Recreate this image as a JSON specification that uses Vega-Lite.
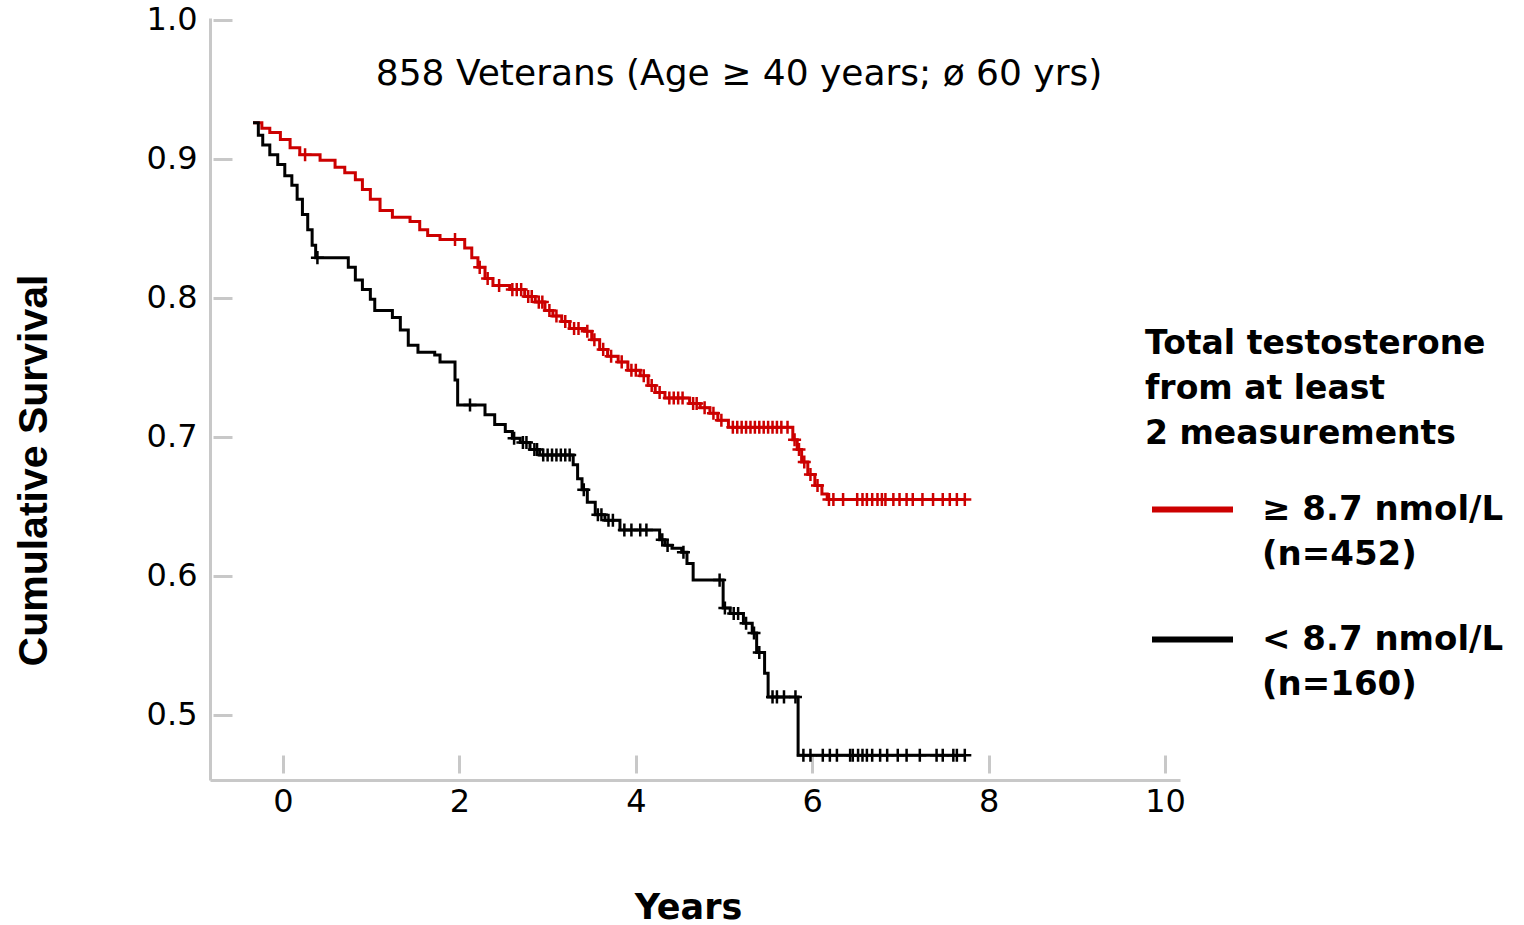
{
  "$schema": "https://vega.github.io/schema/vega-lite/v6.json",
  "width": 970,
  "height": 762,
  "autosize": {"type": "none"},
  "padding": {"left": 210, "top": 18, "right": 344, "bottom": 145},
  "background": "white",
  "config": {
    "font": "DejaVu Sans",
    "view": {"stroke": null},
    "axis": {
      "grid": false,
      "domainColor": "#c8c8c8",
      "domainWidth": 3,
      "tickColor": "#c8c8c8",
      "tickWidth": 3,
      "labelFont": "DejaVu Sans",
      "labelFontSize": 32,
      "labelColor": "#000000"
    }
  },
  "title": {
    "text": "858 Veterans (Age ≥ 40 years; ø 60 yrs)",
    "font": "DejaVu Sans",
    "fontSize": 36,
    "fontWeight": "normal",
    "color": "#000000",
    "anchor": "middle",
    "frame": "group",
    "baseline": "alphabetic",
    "offset": 0,
    "dx": 44,
    "dy": 117
  },
  "data": {
    "values": [
      {"g": "≥ 8.7 nmol/L", "t": -0.34, "s": 0.926, "c": 0},
      {"g": "≥ 8.7 nmol/L", "t": -0.24, "s": 0.922, "c": 0},
      {"g": "≥ 8.7 nmol/L", "t": -0.15, "s": 0.919, "c": 0},
      {"g": "≥ 8.7 nmol/L", "t": -0.03, "s": 0.914, "c": 0},
      {"g": "≥ 8.7 nmol/L", "t": 0.08, "s": 0.908, "c": 0},
      {"g": "≥ 8.7 nmol/L", "t": 0.19, "s": 0.903, "c": 0},
      {"g": "≥ 8.7 nmol/L", "t": 0.25, "s": 0.903, "c": 1},
      {"g": "≥ 8.7 nmol/L", "t": 0.42, "s": 0.899, "c": 0},
      {"g": "≥ 8.7 nmol/L", "t": 0.59, "s": 0.894, "c": 0},
      {"g": "≥ 8.7 nmol/L", "t": 0.70, "s": 0.890, "c": 0},
      {"g": "≥ 8.7 nmol/L", "t": 0.82, "s": 0.885, "c": 0},
      {"g": "≥ 8.7 nmol/L", "t": 0.90, "s": 0.878, "c": 0},
      {"g": "≥ 8.7 nmol/L", "t": 0.99, "s": 0.871, "c": 0},
      {"g": "≥ 8.7 nmol/L", "t": 1.10, "s": 0.863, "c": 0},
      {"g": "≥ 8.7 nmol/L", "t": 1.24, "s": 0.858, "c": 0},
      {"g": "≥ 8.7 nmol/L", "t": 1.44, "s": 0.855, "c": 0},
      {"g": "≥ 8.7 nmol/L", "t": 1.55, "s": 0.849, "c": 0},
      {"g": "≥ 8.7 nmol/L", "t": 1.64, "s": 0.845, "c": 0},
      {"g": "≥ 8.7 nmol/L", "t": 1.78, "s": 0.842, "c": 0},
      {"g": "≥ 8.7 nmol/L", "t": 1.95, "s": 0.842, "c": 1},
      {"g": "≥ 8.7 nmol/L", "t": 2.06, "s": 0.836, "c": 0},
      {"g": "≥ 8.7 nmol/L", "t": 2.14, "s": 0.829, "c": 0},
      {"g": "≥ 8.7 nmol/L", "t": 2.21, "s": 0.822, "c": 0},
      {"g": "≥ 8.7 nmol/L", "t": 2.23, "s": 0.822, "c": 1},
      {"g": "≥ 8.7 nmol/L", "t": 2.29, "s": 0.814, "c": 0},
      {"g": "≥ 8.7 nmol/L", "t": 2.32, "s": 0.814, "c": 1},
      {"g": "≥ 8.7 nmol/L", "t": 2.38, "s": 0.809, "c": 0},
      {"g": "≥ 8.7 nmol/L", "t": 2.45, "s": 0.809, "c": 1},
      {"g": "≥ 8.7 nmol/L", "t": 2.57, "s": 0.806, "c": 0},
      {"g": "≥ 8.7 nmol/L", "t": 2.60, "s": 0.806, "c": 1},
      {"g": "≥ 8.7 nmol/L", "t": 2.65, "s": 0.806, "c": 1},
      {"g": "≥ 8.7 nmol/L", "t": 2.70, "s": 0.806, "c": 1},
      {"g": "≥ 8.7 nmol/L", "t": 2.74, "s": 0.801, "c": 0},
      {"g": "≥ 8.7 nmol/L", "t": 2.78, "s": 0.801, "c": 1},
      {"g": "≥ 8.7 nmol/L", "t": 2.82, "s": 0.801, "c": 1},
      {"g": "≥ 8.7 nmol/L", "t": 2.86, "s": 0.797, "c": 0},
      {"g": "≥ 8.7 nmol/L", "t": 2.90, "s": 0.797, "c": 1},
      {"g": "≥ 8.7 nmol/L", "t": 2.94, "s": 0.797, "c": 1},
      {"g": "≥ 8.7 nmol/L", "t": 2.97, "s": 0.791, "c": 0},
      {"g": "≥ 8.7 nmol/L", "t": 3.02, "s": 0.791, "c": 1},
      {"g": "≥ 8.7 nmol/L", "t": 3.06, "s": 0.787, "c": 0},
      {"g": "≥ 8.7 nmol/L", "t": 3.10, "s": 0.787, "c": 1},
      {"g": "≥ 8.7 nmol/L", "t": 3.16, "s": 0.783, "c": 0},
      {"g": "≥ 8.7 nmol/L", "t": 3.20, "s": 0.783, "c": 1},
      {"g": "≥ 8.7 nmol/L", "t": 3.25, "s": 0.778, "c": 0},
      {"g": "≥ 8.7 nmol/L", "t": 3.30, "s": 0.778, "c": 1},
      {"g": "≥ 8.7 nmol/L", "t": 3.35, "s": 0.778, "c": 1},
      {"g": "≥ 8.7 nmol/L", "t": 3.42, "s": 0.776, "c": 0},
      {"g": "≥ 8.7 nmol/L", "t": 3.45, "s": 0.776, "c": 1},
      {"g": "≥ 8.7 nmol/L", "t": 3.50, "s": 0.770, "c": 0},
      {"g": "≥ 8.7 nmol/L", "t": 3.53, "s": 0.770, "c": 1},
      {"g": "≥ 8.7 nmol/L", "t": 3.59, "s": 0.763, "c": 0},
      {"g": "≥ 8.7 nmol/L", "t": 3.63, "s": 0.763, "c": 1},
      {"g": "≥ 8.7 nmol/L", "t": 3.68, "s": 0.758, "c": 0},
      {"g": "≥ 8.7 nmol/L", "t": 3.72, "s": 0.758, "c": 1},
      {"g": "≥ 8.7 nmol/L", "t": 3.80, "s": 0.754, "c": 0},
      {"g": "≥ 8.7 nmol/L", "t": 3.84, "s": 0.754, "c": 1},
      {"g": "≥ 8.7 nmol/L", "t": 3.91, "s": 0.748, "c": 0},
      {"g": "≥ 8.7 nmol/L", "t": 3.95, "s": 0.748, "c": 1},
      {"g": "≥ 8.7 nmol/L", "t": 4.00, "s": 0.748, "c": 1},
      {"g": "≥ 8.7 nmol/L", "t": 4.05, "s": 0.744, "c": 0},
      {"g": "≥ 8.7 nmol/L", "t": 4.09, "s": 0.744, "c": 1},
      {"g": "≥ 8.7 nmol/L", "t": 4.14, "s": 0.737, "c": 0},
      {"g": "≥ 8.7 nmol/L", "t": 4.18, "s": 0.737, "c": 1},
      {"g": "≥ 8.7 nmol/L", "t": 4.22, "s": 0.732, "c": 0},
      {"g": "≥ 8.7 nmol/L", "t": 4.27, "s": 0.732, "c": 1},
      {"g": "≥ 8.7 nmol/L", "t": 4.33, "s": 0.728, "c": 0},
      {"g": "≥ 8.7 nmol/L", "t": 4.38, "s": 0.728, "c": 1},
      {"g": "≥ 8.7 nmol/L", "t": 4.43, "s": 0.728, "c": 1},
      {"g": "≥ 8.7 nmol/L", "t": 4.48, "s": 0.728, "c": 1},
      {"g": "≥ 8.7 nmol/L", "t": 4.53, "s": 0.728, "c": 1},
      {"g": "≥ 8.7 nmol/L", "t": 4.61, "s": 0.724, "c": 0},
      {"g": "≥ 8.7 nmol/L", "t": 4.65, "s": 0.724, "c": 1},
      {"g": "≥ 8.7 nmol/L", "t": 4.69, "s": 0.724, "c": 1},
      {"g": "≥ 8.7 nmol/L", "t": 4.73, "s": 0.721, "c": 0},
      {"g": "≥ 8.7 nmol/L", "t": 4.78, "s": 0.721, "c": 1},
      {"g": "≥ 8.7 nmol/L", "t": 4.84, "s": 0.717, "c": 0},
      {"g": "≥ 8.7 nmol/L", "t": 4.88, "s": 0.717, "c": 1},
      {"g": "≥ 8.7 nmol/L", "t": 4.93, "s": 0.712, "c": 0},
      {"g": "≥ 8.7 nmol/L", "t": 4.97, "s": 0.712, "c": 1},
      {"g": "≥ 8.7 nmol/L", "t": 5.05, "s": 0.707, "c": 0},
      {"g": "≥ 8.7 nmol/L", "t": 5.10, "s": 0.707, "c": 1},
      {"g": "≥ 8.7 nmol/L", "t": 5.15, "s": 0.707, "c": 1},
      {"g": "≥ 8.7 nmol/L", "t": 5.20, "s": 0.707, "c": 1},
      {"g": "≥ 8.7 nmol/L", "t": 5.25, "s": 0.707, "c": 1},
      {"g": "≥ 8.7 nmol/L", "t": 5.30, "s": 0.707, "c": 1},
      {"g": "≥ 8.7 nmol/L", "t": 5.35, "s": 0.707, "c": 1},
      {"g": "≥ 8.7 nmol/L", "t": 5.40, "s": 0.707, "c": 1},
      {"g": "≥ 8.7 nmol/L", "t": 5.45, "s": 0.707, "c": 1},
      {"g": "≥ 8.7 nmol/L", "t": 5.50, "s": 0.707, "c": 1},
      {"g": "≥ 8.7 nmol/L", "t": 5.55, "s": 0.707, "c": 1},
      {"g": "≥ 8.7 nmol/L", "t": 5.60, "s": 0.707, "c": 1},
      {"g": "≥ 8.7 nmol/L", "t": 5.65, "s": 0.707, "c": 1},
      {"g": "≥ 8.7 nmol/L", "t": 5.72, "s": 0.707, "c": 1},
      {"g": "≥ 8.7 nmol/L", "t": 5.78, "s": 0.698, "c": 0},
      {"g": "≥ 8.7 nmol/L", "t": 5.80, "s": 0.698, "c": 1},
      {"g": "≥ 8.7 nmol/L", "t": 5.83, "s": 0.691, "c": 0},
      {"g": "≥ 8.7 nmol/L", "t": 5.85, "s": 0.691, "c": 1},
      {"g": "≥ 8.7 nmol/L", "t": 5.88, "s": 0.682, "c": 0},
      {"g": "≥ 8.7 nmol/L", "t": 5.91, "s": 0.682, "c": 1},
      {"g": "≥ 8.7 nmol/L", "t": 5.95, "s": 0.673, "c": 0},
      {"g": "≥ 8.7 nmol/L", "t": 5.98, "s": 0.673, "c": 1},
      {"g": "≥ 8.7 nmol/L", "t": 6.03, "s": 0.665, "c": 0},
      {"g": "≥ 8.7 nmol/L", "t": 6.06, "s": 0.665, "c": 1},
      {"g": "≥ 8.7 nmol/L", "t": 6.11, "s": 0.659, "c": 0},
      {"g": "≥ 8.7 nmol/L", "t": 6.17, "s": 0.655, "c": 0},
      {"g": "≥ 8.7 nmol/L", "t": 6.19, "s": 0.655, "c": 1},
      {"g": "≥ 8.7 nmol/L", "t": 6.24, "s": 0.655, "c": 1},
      {"g": "≥ 8.7 nmol/L", "t": 6.35, "s": 0.655, "c": 1},
      {"g": "≥ 8.7 nmol/L", "t": 6.51, "s": 0.655, "c": 1},
      {"g": "≥ 8.7 nmol/L", "t": 6.57, "s": 0.655, "c": 1},
      {"g": "≥ 8.7 nmol/L", "t": 6.62, "s": 0.655, "c": 1},
      {"g": "≥ 8.7 nmol/L", "t": 6.68, "s": 0.655, "c": 1},
      {"g": "≥ 8.7 nmol/L", "t": 6.74, "s": 0.655, "c": 1},
      {"g": "≥ 8.7 nmol/L", "t": 6.79, "s": 0.655, "c": 1},
      {"g": "≥ 8.7 nmol/L", "t": 6.83, "s": 0.655, "c": 1},
      {"g": "≥ 8.7 nmol/L", "t": 6.92, "s": 0.655, "c": 1},
      {"g": "≥ 8.7 nmol/L", "t": 6.99, "s": 0.655, "c": 1},
      {"g": "≥ 8.7 nmol/L", "t": 7.07, "s": 0.655, "c": 1},
      {"g": "≥ 8.7 nmol/L", "t": 7.14, "s": 0.655, "c": 1},
      {"g": "≥ 8.7 nmol/L", "t": 7.25, "s": 0.655, "c": 1},
      {"g": "≥ 8.7 nmol/L", "t": 7.37, "s": 0.655, "c": 1},
      {"g": "≥ 8.7 nmol/L", "t": 7.48, "s": 0.655, "c": 1},
      {"g": "≥ 8.7 nmol/L", "t": 7.56, "s": 0.655, "c": 1},
      {"g": "≥ 8.7 nmol/L", "t": 7.64, "s": 0.655, "c": 1},
      {"g": "≥ 8.7 nmol/L", "t": 7.73, "s": 0.655, "c": 1},
      {"g": "< 8.7 nmol/L", "t": -0.34, "s": 0.926, "c": 0},
      {"g": "< 8.7 nmol/L", "t": -0.28, "s": 0.917, "c": 0},
      {"g": "< 8.7 nmol/L", "t": -0.23, "s": 0.910, "c": 0},
      {"g": "< 8.7 nmol/L", "t": -0.15, "s": 0.903, "c": 0},
      {"g": "< 8.7 nmol/L", "t": -0.06, "s": 0.896, "c": 0},
      {"g": "< 8.7 nmol/L", "t": 0.02, "s": 0.888, "c": 0},
      {"g": "< 8.7 nmol/L", "t": 0.10, "s": 0.881, "c": 0},
      {"g": "< 8.7 nmol/L", "t": 0.16, "s": 0.871, "c": 0},
      {"g": "< 8.7 nmol/L", "t": 0.22, "s": 0.860, "c": 0},
      {"g": "< 8.7 nmol/L", "t": 0.28, "s": 0.849, "c": 0},
      {"g": "< 8.7 nmol/L", "t": 0.33, "s": 0.838, "c": 0},
      {"g": "< 8.7 nmol/L", "t": 0.37, "s": 0.829, "c": 0},
      {"g": "< 8.7 nmol/L", "t": 0.39, "s": 0.829, "c": 1},
      {"g": "< 8.7 nmol/L", "t": 0.74, "s": 0.822, "c": 0},
      {"g": "< 8.7 nmol/L", "t": 0.82, "s": 0.813, "c": 0},
      {"g": "< 8.7 nmol/L", "t": 0.90, "s": 0.806, "c": 0},
      {"g": "< 8.7 nmol/L", "t": 0.99, "s": 0.799, "c": 0},
      {"g": "< 8.7 nmol/L", "t": 1.04, "s": 0.791, "c": 0},
      {"g": "< 8.7 nmol/L", "t": 1.24, "s": 0.786, "c": 0},
      {"g": "< 8.7 nmol/L", "t": 1.33, "s": 0.777, "c": 0},
      {"g": "< 8.7 nmol/L", "t": 1.42, "s": 0.766, "c": 0},
      {"g": "< 8.7 nmol/L", "t": 1.53, "s": 0.761, "c": 0},
      {"g": "< 8.7 nmol/L", "t": 1.72, "s": 0.759, "c": 0},
      {"g": "< 8.7 nmol/L", "t": 1.78, "s": 0.754, "c": 0},
      {"g": "< 8.7 nmol/L", "t": 1.95, "s": 0.741, "c": 0},
      {"g": "< 8.7 nmol/L", "t": 1.98, "s": 0.723, "c": 0},
      {"g": "< 8.7 nmol/L", "t": 2.12, "s": 0.723, "c": 1},
      {"g": "< 8.7 nmol/L", "t": 2.29, "s": 0.716, "c": 0},
      {"g": "< 8.7 nmol/L", "t": 2.40, "s": 0.709, "c": 0},
      {"g": "< 8.7 nmol/L", "t": 2.52, "s": 0.704, "c": 0},
      {"g": "< 8.7 nmol/L", "t": 2.60, "s": 0.699, "c": 0},
      {"g": "< 8.7 nmol/L", "t": 2.62, "s": 0.699, "c": 1},
      {"g": "< 8.7 nmol/L", "t": 2.69, "s": 0.696, "c": 0},
      {"g": "< 8.7 nmol/L", "t": 2.72, "s": 0.696, "c": 1},
      {"g": "< 8.7 nmol/L", "t": 2.76, "s": 0.696, "c": 1},
      {"g": "< 8.7 nmol/L", "t": 2.80, "s": 0.691, "c": 0},
      {"g": "< 8.7 nmol/L", "t": 2.85, "s": 0.691, "c": 1},
      {"g": "< 8.7 nmol/L", "t": 2.88, "s": 0.691, "c": 1},
      {"g": "< 8.7 nmol/L", "t": 2.91, "s": 0.687, "c": 0},
      {"g": "< 8.7 nmol/L", "t": 2.95, "s": 0.687, "c": 1},
      {"g": "< 8.7 nmol/L", "t": 3.00, "s": 0.687, "c": 1},
      {"g": "< 8.7 nmol/L", "t": 3.05, "s": 0.687, "c": 1},
      {"g": "< 8.7 nmol/L", "t": 3.10, "s": 0.687, "c": 1},
      {"g": "< 8.7 nmol/L", "t": 3.15, "s": 0.687, "c": 1},
      {"g": "< 8.7 nmol/L", "t": 3.20, "s": 0.687, "c": 1},
      {"g": "< 8.7 nmol/L", "t": 3.25, "s": 0.687, "c": 1},
      {"g": "< 8.7 nmol/L", "t": 3.29, "s": 0.680, "c": 0},
      {"g": "< 8.7 nmol/L", "t": 3.34, "s": 0.670, "c": 0},
      {"g": "< 8.7 nmol/L", "t": 3.39, "s": 0.662, "c": 0},
      {"g": "< 8.7 nmol/L", "t": 3.41, "s": 0.662, "c": 1},
      {"g": "< 8.7 nmol/L", "t": 3.45, "s": 0.653, "c": 0},
      {"g": "< 8.7 nmol/L", "t": 3.54, "s": 0.644, "c": 0},
      {"g": "< 8.7 nmol/L", "t": 3.57, "s": 0.644, "c": 1},
      {"g": "< 8.7 nmol/L", "t": 3.61, "s": 0.644, "c": 1},
      {"g": "< 8.7 nmol/L", "t": 3.65, "s": 0.640, "c": 0},
      {"g": "< 8.7 nmol/L", "t": 3.69, "s": 0.640, "c": 1},
      {"g": "< 8.7 nmol/L", "t": 3.74, "s": 0.640, "c": 1},
      {"g": "< 8.7 nmol/L", "t": 3.82, "s": 0.633, "c": 0},
      {"g": "< 8.7 nmol/L", "t": 3.87, "s": 0.633, "c": 1},
      {"g": "< 8.7 nmol/L", "t": 3.95, "s": 0.633, "c": 1},
      {"g": "< 8.7 nmol/L", "t": 4.05, "s": 0.633, "c": 1},
      {"g": "< 8.7 nmol/L", "t": 4.12, "s": 0.633, "c": 1},
      {"g": "< 8.7 nmol/L", "t": 4.27, "s": 0.626, "c": 0},
      {"g": "< 8.7 nmol/L", "t": 4.30, "s": 0.626, "c": 1},
      {"g": "< 8.7 nmol/L", "t": 4.33, "s": 0.622, "c": 0},
      {"g": "< 8.7 nmol/L", "t": 4.36, "s": 0.622, "c": 1},
      {"g": "< 8.7 nmol/L", "t": 4.41, "s": 0.620, "c": 0},
      {"g": "< 8.7 nmol/L", "t": 4.52, "s": 0.617, "c": 0},
      {"g": "< 8.7 nmol/L", "t": 4.54, "s": 0.617, "c": 1},
      {"g": "< 8.7 nmol/L", "t": 4.58, "s": 0.609, "c": 0},
      {"g": "< 8.7 nmol/L", "t": 4.65, "s": 0.597, "c": 0},
      {"g": "< 8.7 nmol/L", "t": 4.95, "s": 0.597, "c": 1},
      {"g": "< 8.7 nmol/L", "t": 4.99, "s": 0.577, "c": 0},
      {"g": "< 8.7 nmol/L", "t": 5.01, "s": 0.577, "c": 1},
      {"g": "< 8.7 nmol/L", "t": 5.07, "s": 0.573, "c": 0},
      {"g": "< 8.7 nmol/L", "t": 5.11, "s": 0.573, "c": 1},
      {"g": "< 8.7 nmol/L", "t": 5.16, "s": 0.573, "c": 1},
      {"g": "< 8.7 nmol/L", "t": 5.22, "s": 0.566, "c": 0},
      {"g": "< 8.7 nmol/L", "t": 5.25, "s": 0.566, "c": 1},
      {"g": "< 8.7 nmol/L", "t": 5.32, "s": 0.559, "c": 0},
      {"g": "< 8.7 nmol/L", "t": 5.34, "s": 0.559, "c": 1},
      {"g": "< 8.7 nmol/L", "t": 5.37, "s": 0.545, "c": 0},
      {"g": "< 8.7 nmol/L", "t": 5.40, "s": 0.545, "c": 1},
      {"g": "< 8.7 nmol/L", "t": 5.46, "s": 0.530, "c": 0},
      {"g": "< 8.7 nmol/L", "t": 5.50, "s": 0.513, "c": 0},
      {"g": "< 8.7 nmol/L", "t": 5.55, "s": 0.513, "c": 1},
      {"g": "< 8.7 nmol/L", "t": 5.60, "s": 0.513, "c": 1},
      {"g": "< 8.7 nmol/L", "t": 5.68, "s": 0.513, "c": 1},
      {"g": "< 8.7 nmol/L", "t": 5.81, "s": 0.513, "c": 1},
      {"g": "< 8.7 nmol/L", "t": 5.84, "s": 0.471, "c": 0},
      {"g": "< 8.7 nmol/L", "t": 5.90, "s": 0.471, "c": 1},
      {"g": "< 8.7 nmol/L", "t": 5.98, "s": 0.471, "c": 1},
      {"g": "< 8.7 nmol/L", "t": 6.12, "s": 0.471, "c": 1},
      {"g": "< 8.7 nmol/L", "t": 6.20, "s": 0.471, "c": 1},
      {"g": "< 8.7 nmol/L", "t": 6.28, "s": 0.471, "c": 1},
      {"g": "< 8.7 nmol/L", "t": 6.43, "s": 0.471, "c": 1},
      {"g": "< 8.7 nmol/L", "t": 6.46, "s": 0.471, "c": 1},
      {"g": "< 8.7 nmol/L", "t": 6.52, "s": 0.471, "c": 1},
      {"g": "< 8.7 nmol/L", "t": 6.57, "s": 0.471, "c": 1},
      {"g": "< 8.7 nmol/L", "t": 6.62, "s": 0.471, "c": 1},
      {"g": "< 8.7 nmol/L", "t": 6.68, "s": 0.471, "c": 1},
      {"g": "< 8.7 nmol/L", "t": 6.77, "s": 0.471, "c": 1},
      {"g": "< 8.7 nmol/L", "t": 6.85, "s": 0.471, "c": 1},
      {"g": "< 8.7 nmol/L", "t": 6.97, "s": 0.471, "c": 1},
      {"g": "< 8.7 nmol/L", "t": 7.07, "s": 0.471, "c": 1},
      {"g": "< 8.7 nmol/L", "t": 7.22, "s": 0.471, "c": 1},
      {"g": "< 8.7 nmol/L", "t": 7.41, "s": 0.471, "c": 1},
      {"g": "< 8.7 nmol/L", "t": 7.48, "s": 0.471, "c": 1},
      {"g": "< 8.7 nmol/L", "t": 7.60, "s": 0.471, "c": 1},
      {"g": "< 8.7 nmol/L", "t": 7.64, "s": 0.471, "c": 1},
      {"g": "< 8.7 nmol/L", "t": 7.73, "s": 0.471, "c": 1}
    ]
  },
  "resolve": {"axis": {"x": "independent", "y": "independent"}},
  "layer": [
    {
      "mark": {"type": "line", "interpolate": "step-after", "strokeWidth": 3},
      "encoding": {
        "x": {
          "field": "t", "type": "quantitative",
          "scale": {"domain": [-0.828, 10.17], "nice": false, "zero": false},
          "axis": {
            "orient": "bottom",
            "values": [0, 2, 4, 6, 8, 10],
            "format": "d",
            "ticks": false,
            "labelPadding": 6,
            "title": "Years",
            "titleFont": "DejaVu Sans",
            "titleFontSize": 35,
            "titleFontWeight": "bold",
            "titleColor": "#000000",
            "titleX": 478,
            "titleY": 127,
            "titleAlign": "center",
            "titleBaseline": "middle"
          }
        },
        "y": {
          "field": "s", "type": "quantitative",
          "scale": {"domain": [0.4532, 1.0014], "nice": false, "zero": false},
          "axis": {
            "orient": "left",
            "values": [0.5, 0.6, 0.7, 0.8, 0.9, 1.0],
            "format": ".1f",
            "ticks": false,
            "labelPadding": 13,
            "title": "Cumulative Survival",
            "titleFont": "Liberation Sans",
            "titleFontSize": 41,
            "titleFontWeight": "bold",
            "titleColor": "#000000",
            "titleAngle": -90,
            "titleX": -176,
            "titleY": 452,
            "titleAlign": "center",
            "titleBaseline": "middle"
          }
        },
        "color": {
          "field": "g", "type": "nominal",
          "scale": {"domain": ["≥ 8.7 nmol/L", "< 8.7 nmol/L"], "range": ["#cc0000", "#000000"]},
          "legend": {
            "orient": "none",
            "legendX": 935,
            "legendY": 310,
            "title": ["Total testosterone", "from at least", "2 measurements"],
            "titleFont": "DejaVu Sans",
            "titleFontSize": 33,
            "titleFontWeight": "bold",
            "titleColor": "#000000",
            "titleLineHeight": 45,
            "titleLimit": 500,
            "titlePadding": 15,
            "symbolType": "stroke",
            "symbolSize": 6561,
            "symbolStrokeWidth": 6,
            "symbolOffset": 4,
            "labelFont": "DejaVu Sans",
            "labelFontSize": 34,
            "labelFontWeight": "bold",
            "labelColor": "#000000",
            "labelOffset": 26,
            "labelLimit": 400,
            "rowPadding": 24,
            "labelExpr": "datum.label == '≥ 8.7 nmol/L' ? ['≥ 8.7 nmol/L', '(n=452)'] : ['< 8.7 nmol/L', '(n=160)']",
            "encode": {
              "labels": {"update": {"lineHeight": {"value": 45}}}
            }
          }
        }
      }
    },
    {
      "transform": [{"filter": "datum.c == 1"}],
      "mark": {"type": "point", "shape": "M-1,0L1,0M0,-1L0,1", "filled": false, "strokeWidth": 2.5, "size": 170, "opacity": 1},
      "encoding": {
        "x": {
          "field": "t", "type": "quantitative",
          "axis": {"orient": "bottom", "values": [0, 2, 4, 6, 8, 10], "domain": false, "labels": false, "title": null, "tickSize": -18, "offset": -7}
        },
        "y": {
          "field": "s", "type": "quantitative",
          "axis": {"orient": "left", "values": [0.5, 0.6, 0.7, 0.8, 0.9, 1.0], "domain": false, "labels": false, "title": null, "tickSize": -19, "offset": -3}
        },
        "color": {"field": "g", "type": "nominal", "legend": null}
      }
    }
  ]
}
